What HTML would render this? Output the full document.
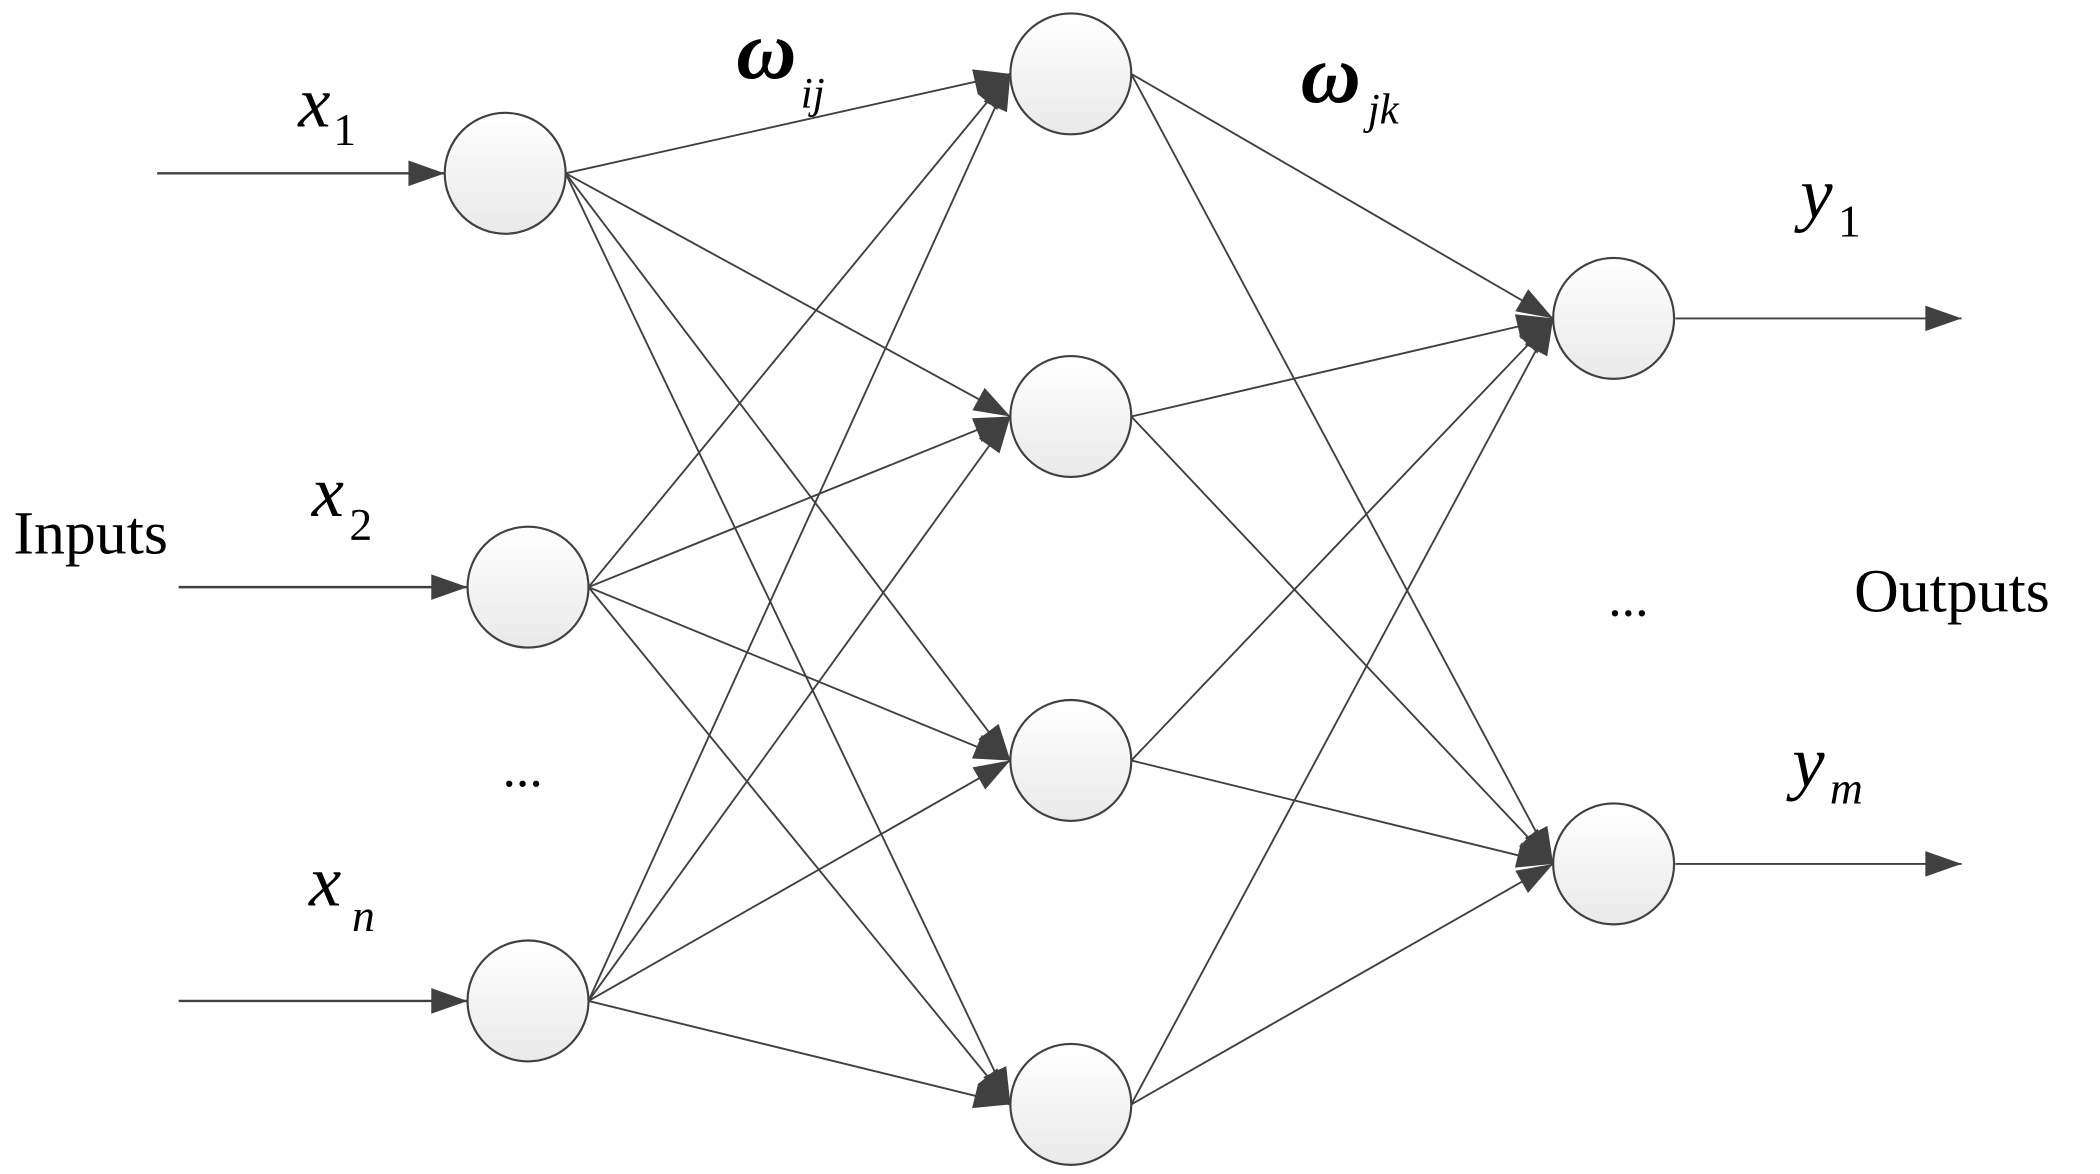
<!DOCTYPE html>
<html><head><meta charset="utf-8"><style>
html,body{margin:0;padding:0;background:#fff;}
svg{display:block;}
text{font-family:"Liberation Serif",serif;fill:#000;}
</style></head><body>
<svg width="2100" height="1174" viewBox="0 0 1563 873.8" preserveAspectRatio="none" xmlns="http://www.w3.org/2000/svg">
<defs>
<marker id="a" markerUnits="userSpaceOnUse" markerWidth="40" markerHeight="40" refX="0" refY="0" orient="auto" viewBox="-40 -20 40 40" style="overflow:visible">
<path d="M0,0 L-27,-9.5 L-27,9.5 z" fill="#404040"/>
</marker>
<linearGradient id="g" x1="0" y1="0" x2="0" y2="1">
<stop offset="0" stop-color="#ffffff"/><stop offset="1" stop-color="#e9e9e9"/>
</linearGradient>
</defs>
<g stroke="#404040" stroke-width="1.4" fill="none">
<!-- input arrows -->
<line x1="117" y1="129" x2="331" y2="129" marker-end="url(#a)" stroke-width="1.8"/>
<line x1="133" y1="437" x2="348" y2="437" marker-end="url(#a)" stroke-width="1.8"/>
<line x1="133" y1="745" x2="348" y2="745" marker-end="url(#a)" stroke-width="1.8"/>
<!-- input to hidden -->
<line x1="421" y1="129" x2="752" y2="55" marker-end="url(#a)"/>
<line x1="421" y1="129" x2="752" y2="310" marker-end="url(#a)"/>
<line x1="421" y1="129" x2="752" y2="566" marker-end="url(#a)"/>
<line x1="421" y1="129" x2="752" y2="822" marker-end="url(#a)"/>
<line x1="438" y1="437" x2="752" y2="55" marker-end="url(#a)"/>
<line x1="438" y1="437" x2="752" y2="310" marker-end="url(#a)"/>
<line x1="438" y1="437" x2="752" y2="566" marker-end="url(#a)"/>
<line x1="438" y1="437" x2="752" y2="822" marker-end="url(#a)"/>
<line x1="438" y1="745" x2="752" y2="55" marker-end="url(#a)"/>
<line x1="438" y1="745" x2="752" y2="310" marker-end="url(#a)"/>
<line x1="438" y1="745" x2="752" y2="566" marker-end="url(#a)"/>
<line x1="438" y1="745" x2="752" y2="822" marker-end="url(#a)"/>
<!-- hidden to output -->
<line x1="842" y1="55" x2="1156" y2="237" marker-end="url(#a)"/>
<line x1="842" y1="55" x2="1156" y2="643" marker-end="url(#a)"/>
<line x1="842" y1="310" x2="1156" y2="237" marker-end="url(#a)"/>
<line x1="842" y1="310" x2="1156" y2="643" marker-end="url(#a)"/>
<line x1="842" y1="566" x2="1156" y2="237" marker-end="url(#a)"/>
<line x1="842" y1="566" x2="1156" y2="643" marker-end="url(#a)"/>
<line x1="842" y1="822" x2="1156" y2="237" marker-end="url(#a)"/>
<line x1="842" y1="822" x2="1156" y2="643" marker-end="url(#a)"/>
<!-- output arrows -->
<line x1="1247" y1="237" x2="1460" y2="237" marker-end="url(#a)"/>
<line x1="1247" y1="643" x2="1460" y2="643" marker-end="url(#a)"/>
</g>
<g fill="url(#g)" stroke="#404040" stroke-width="1.6">
<circle cx="376" cy="129" r="45"/>
<circle cx="393" cy="437" r="45"/>
<circle cx="393" cy="745" r="45"/>
<circle cx="797" cy="55" r="45"/>
<circle cx="797" cy="310" r="45"/>
<circle cx="797" cy="566" r="45"/>
<circle cx="797" cy="822" r="45"/>
<circle cx="1201" cy="237" r="45"/>
<circle cx="1201" cy="643" r="45"/>
</g>
<text x="222" y="94" font-size="54" font-style="italic">x</text><text x="248" y="108" font-size="34">1</text>
<text x="232" y="384" font-size="54" font-style="italic">x</text><text x="260" y="402" font-size="34">2</text>
<text x="230" y="674" font-size="54" font-style="italic">x</text><text x="262" y="693" font-size="34" font-style="italic">n</text>
<text x="548" y="58" font-size="62" font-style="italic" font-weight="bold">ω</text><text x="596" y="80" font-size="32" font-style="italic">ij</text>
<text x="968" y="76" font-size="62" font-style="italic" font-weight="bold">ω</text><text x="1018" y="92" font-size="32" font-style="italic">jk</text>
<text x="1340" y="162" font-size="54" font-style="italic">y</text><text x="1368" y="176" font-size="34">1</text>
<text x="1334" y="585" font-size="54" font-style="italic">y</text><text x="1362" y="598" font-size="34" font-style="italic">m</text>
<text x="10" y="412" font-size="46">Inputs</text>
<text x="1380" y="455" font-size="46">Outputs</text>
<text x="374" y="585" font-size="40">...</text>
<text x="1197" y="458" font-size="40">...</text>
</svg>
</body></html>
